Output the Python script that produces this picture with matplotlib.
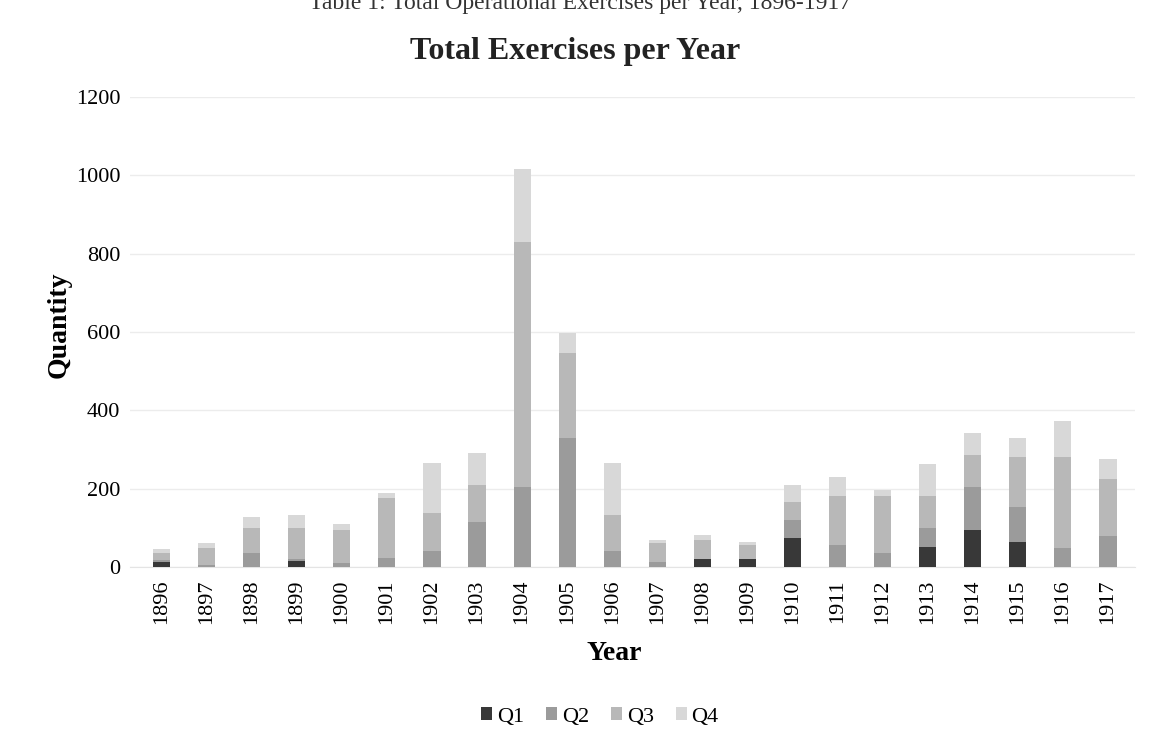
import numpy as np
import matplotlib
matplotlib.use("Agg")
import matplotlib.pyplot as plt

plt.rcParams['font.family'] = ['Liberation Serif', 'DejaVu Serif']

years = [str(y) for y in range(1896, 1918)]
# quarterly counts
q1 = [12, 0, 0, 15, 0, 0, 0, 0, 0, 0, 0, 0, 20, 20, 73, 0, 0, 50, 94, 65, 0, 0]
q2 = [5, 5, 35, 5, 10, 22, 40, 116, 205, 329, 40, 14, 0, 0, 47, 56, 35, 50, 111, 89, 48, 79]
q3 = [20, 43, 64, 79, 84, 153, 97, 93, 626, 217, 93, 47, 48, 35, 47, 124, 145, 80, 81, 128, 234, 145]
q4 = [8, 12, 29, 34, 16, 13, 129, 83, 185, 51, 132, 8, 14, 10, 42, 51, 17, 83, 57, 47, 92, 51]
series = ['Q1', 'Q2', 'Q3', 'Q4']
colors = ['#383838', '#9b9b9b', '#b8b8b8', '#d8d8d8']

fig = plt.figure(figsize=(11.52, 7.46), dpi=100)
ax = fig.add_axes([130/1152, 1-567/746, 1005/1152, 470/746])

x = np.arange(len(years))
bottom = np.zeros(len(years))
for name, vals, c in zip(series, [q1, q2, q3, q4], colors):
    ax.bar(x, vals, 0.38, bottom=bottom, color=c, label=name, zorder=3)
    bottom += np.array(vals)

ax.set_ylim(0, 1200)
ax.set_xlim(-0.7, len(years) - 0.4)
ax.set_yticks(range(0, 1201, 200))
ax.set_xticks(x)
ax.set_xticklabels(years, rotation=90, fontsize=16)
ax.tick_params(axis='y', labelsize=16, length=0, pad=7)
ax.tick_params(axis='x', length=0, pad=9)
ax.grid(axis='y', color='#ececec', linewidth=1, zorder=0)
for s in ['top', 'right', 'left']:
    ax.spines[s].set_visible(False)
ax.spines['bottom'].set_color('#e4e4e4')

ax.set_ylabel('Quantity', fontsize=20, fontweight='bold')
ax.yaxis.set_label_coords((72 - 130) / 1005, 0.5 + 7 / 470)
ax.set_xlabel('Year', fontsize=20, fontweight='bold')
ax.xaxis.set_label_coords((614 - 130) / 1005, -(641 - 567) / 470)

fig.text(575/1152, 1 - 52/746, 'Total Exercises per Year', ha='center', va='center',
         fontsize=23, fontweight='bold', color='#222222')
fig.text(580/1152, 1 - 3/746, 'Table 1: Total Operational Exercises per Year, 1896-1917',
         ha='center', va='center', fontsize=17, color='#333333')

fig.legend(loc='center', bbox_to_anchor=(600/1152, 1 - 717/746), ncol=4, frameon=False,
           fontsize=16, handlelength=0.5, handleheight=0.5, handletextpad=0.2,
           columnspacing=1.0)

fig.savefig('out.png', dpi=100)
